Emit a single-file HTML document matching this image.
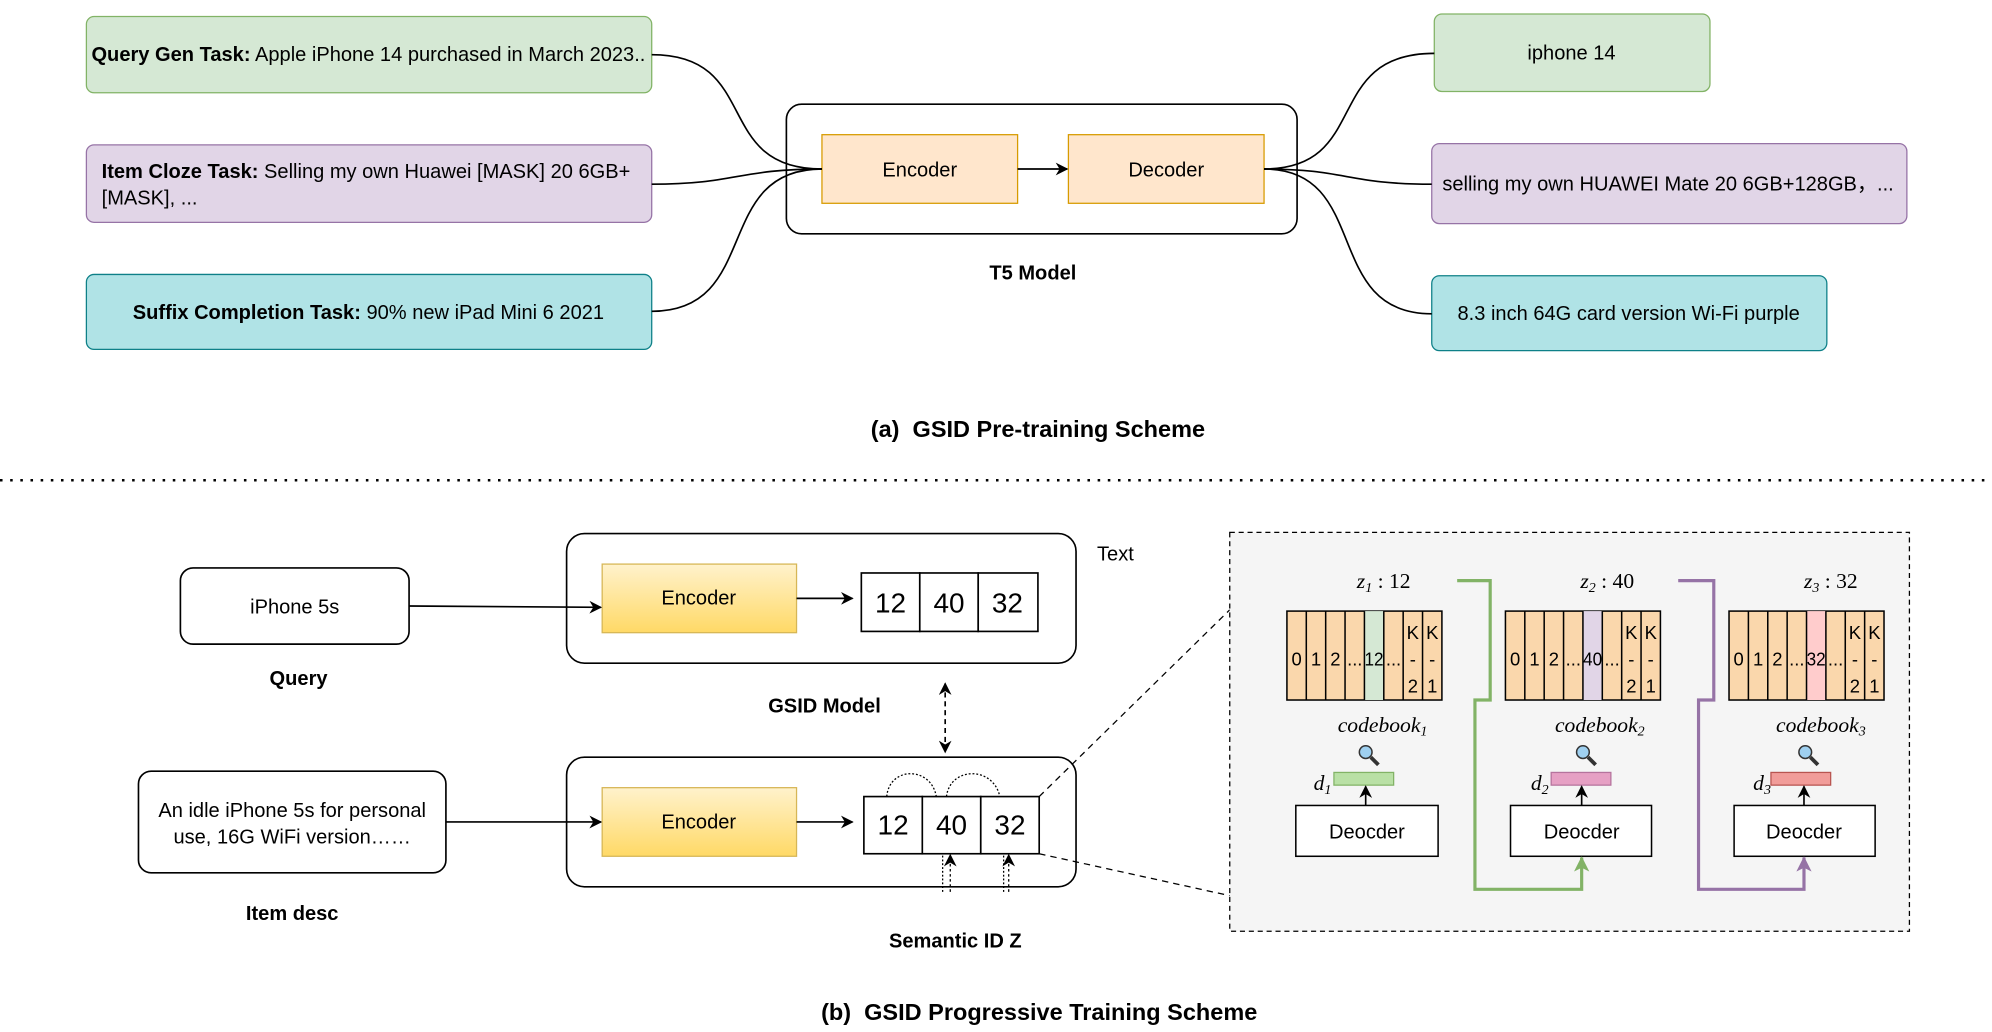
<!DOCTYPE html>
<html><head><meta charset="utf-8"><style>html,body{margin:0;padding:0;background:#fff}svg{display:block}</style></head><body>
<svg width="1992" height="1032" viewBox="0 0 1568 812.3" xmlns="http://www.w3.org/2000/svg" font-family="Liberation Sans, sans-serif">
<defs>
<marker id="a" markerWidth="10" markerHeight="10" refX="9" refY="5" orient="auto-start-reverse" markerUnits="userSpaceOnUse"><path d="M0,0 L10,5 L0,10 L3,5 z" fill="#000"/></marker>
<marker id="ag" markerWidth="12" markerHeight="12" refX="11" refY="6" orient="auto" markerUnits="userSpaceOnUse"><path d="M0,0 L12,6 L0,12 L3,6 z" fill="#82b366"/></marker>
<marker id="ap" markerWidth="12" markerHeight="12" refX="11" refY="6" orient="auto" markerUnits="userSpaceOnUse"><path d="M0,0 L12,6 L0,12 L3,6 z" fill="#9673a6"/></marker>
<linearGradient id="y" x1="0" y1="0" x2="0" y2="1"><stop offset="0" stop-color="#fff2cc"/><stop offset="1" stop-color="#ffd966"/></linearGradient>
</defs>
<g font-size="15.8">
<rect x="68" y="13" width="445" height="60" rx="6" fill="#d5e8d4" stroke="#82b366"/>
<text x="290" y="48" text-anchor="middle"><tspan font-weight="bold">Query Gen Task:</tspan> Apple iPhone 14 purchased in March 2023..</text>
<rect x="68" y="114" width="445" height="61" rx="6" fill="#e1d5e7" stroke="#9673a6"/>
<text x="80" y="140"><tspan font-weight="bold">Item Cloze Task:</tspan> Selling my own Huawei [MASK] 20 6GB+</text>
<text x="80" y="161">[MASK], ...</text>
<rect x="68" y="216" width="445" height="59" rx="6" fill="#b0e3e6" stroke="#0e8088"/>
<text x="290" y="251" text-anchor="middle"><tspan font-weight="bold">Suffix Completion Task:</tspan> 90% new iPad Mini 6 2021</text>
<rect x="619" y="82" width="402" height="102" rx="12" fill="#fff" stroke="#000" stroke-width="1.3"/>
<rect x="647" y="106" width="154" height="54" fill="#ffe6cc" stroke="#d79b00"/>
<text x="724" y="139" text-anchor="middle">Encoder</text>
<rect x="841" y="106" width="154" height="54" fill="#ffe6cc" stroke="#d79b00"/>
<text x="918" y="139" text-anchor="middle">Decoder</text>
<line x1="801" y1="133" x2="840" y2="133" stroke="#000" stroke-width="1.3" marker-end="url(#a)"/>
<text x="813" y="220" text-anchor="middle" font-weight="bold">T5 Model</text>
<rect x="1129" y="11" width="217" height="61" rx="6" fill="#d5e8d4" stroke="#82b366"/>
<text x="1237" y="47" text-anchor="middle">iphone 14</text>
<rect x="1127" y="113" width="374" height="63" rx="6" fill="#e1d5e7" stroke="#9673a6"/>
<text x="1313" y="150" text-anchor="middle">selling my own HUAWEI Mate 20 6GB+128GB，...</text>
<rect x="1127" y="217" width="311" height="59" rx="6" fill="#b0e3e6" stroke="#0e8088"/>
<text x="1282" y="252" text-anchor="middle">8.3 inch 64G card version Wi-Fi purple</text>
</g>
<g fill="none" stroke="#000" stroke-width="1.3">
<path d="M513,43 C600,43 560,133 647,133"/>
<path d="M513,145 C580,145 580,133 647,133"/>
<path d="M513,245 C600,245 560,133 647,133"/>
<path d="M995,133 C1080,133 1040,42 1129,42"/>
<path d="M995,133 C1060,133 1060,145 1127,145"/>
<path d="M995,133 C1080,133 1040,247 1127,247"/>
</g>
<text x="817" y="344" text-anchor="middle" font-size="18.5" font-weight="bold" xml:space="preserve">(a)  GSID Pre-training Scheme</text>
<line x1="0" y1="378" x2="1568" y2="378" stroke="#000" stroke-width="2" stroke-dasharray="2,6"/>
<g font-size="15.8">
<rect x="142" y="447" width="180" height="60" rx="10" fill="#fff" stroke="#000" stroke-width="1.3"/>
<text x="232" y="483" text-anchor="middle">iPhone 5s</text>
<text x="235" y="539" text-anchor="middle" font-weight="bold">Query</text>
<rect x="109" y="607" width="242" height="80" rx="10" fill="#fff" stroke="#000" stroke-width="1.3"/>
<text x="230" y="643" text-anchor="middle">An idle iPhone 5s for personal</text>
<text x="230" y="664" text-anchor="middle">use, 16G WiFi version……</text>
<text x="230" y="724" text-anchor="middle" font-weight="bold">Item desc</text>
<rect x="446" y="420" width="401" height="102" rx="14" fill="#fff" stroke="#000" stroke-width="1.3"/>
<rect x="474" y="444" width="153" height="54" fill="url(#y)" stroke="#d6b656"/>
<text x="550" y="476" text-anchor="middle">Encoder</text>
<line x1="627" y1="471" x2="671" y2="471" stroke="#000" stroke-width="1.3" marker-end="url(#a)"/>
<g fill="#fff" stroke="#000" stroke-width="1.3"><rect x="678" y="451" width="46" height="46"/><rect x="724" y="451" width="46" height="46"/><rect x="770" y="451" width="47" height="46"/></g>
<g font-size="22" text-anchor="middle"><text x="701" y="482">12</text><text x="747" y="482">40</text><text x="793" y="482">32</text></g>
<text x="878" y="441" text-anchor="middle">Text</text>
<text x="649" y="561" text-anchor="middle" font-weight="bold">GSID Model</text>
<line x1="322" y1="477" x2="473" y2="478" stroke="#000" stroke-width="1.3" marker-end="url(#a)"/>
<line x1="744" y1="538" x2="744" y2="592" stroke="#000" stroke-width="1.3" stroke-dasharray="4,3" marker-start="url(#a)" marker-end="url(#a)"/>
<rect x="446" y="596" width="401" height="102" rx="14" fill="#fff" stroke="#000" stroke-width="1.3"/>
<rect x="474" y="620" width="153" height="54" fill="url(#y)" stroke="#d6b656"/>
<text x="550" y="652" text-anchor="middle">Encoder</text>
<line x1="627" y1="647" x2="671" y2="647" stroke="#000" stroke-width="1.3" marker-end="url(#a)"/>
<line x1="351" y1="647" x2="473" y2="647" stroke="#000" stroke-width="1.3" marker-end="url(#a)"/>
<g fill="#fff" stroke="#000" stroke-width="1.3"><rect x="680" y="627" width="46" height="45"/><rect x="726" y="627" width="46" height="45"/><rect x="772" y="627" width="46" height="45"/></g>
<g font-size="22" text-anchor="middle"><text x="703" y="657">12</text><text x="749" y="657">40</text><text x="795" y="657">32</text></g>
<g fill="none" stroke="#000" stroke-dasharray="1.5,1.5"><path d="M698,627 C700,603 733,603 737,627"/><path d="M745,627 C748,603 782,603 787,627"/><path d="M742,702 L742,672"/><path d="M790,702 L790,672"/></g>
<line x1="748" y1="702" x2="748" y2="673" stroke="#000" stroke-dasharray="2,2" marker-end="url(#a)"/>
<line x1="794" y1="702" x2="794" y2="673" stroke="#000" stroke-dasharray="2,2" marker-end="url(#a)"/>
<text x="752" y="746" text-anchor="middle" font-weight="bold">Semantic ID Z</text>
</g>
<line x1="818" y1="627" x2="968" y2="480" stroke="#000" stroke-dasharray="5,4"/>
<line x1="818" y1="672" x2="968" y2="705" stroke="#000" stroke-dasharray="5,4"/>
<rect x="968" y="419" width="535" height="314" fill="#f5f5f5" stroke="#000" stroke-dasharray="4,3"/>
<g font-family="Liberation Serif, serif" font-style="italic" font-size="17">
<text x="1068" y="463">z<tspan font-size="11" dy="3">1</tspan><tspan dy="-3" font-style="normal"> : 12</tspan></text>
<text x="1244" y="463">z<tspan font-size="11" dy="3">2</tspan><tspan dy="-3" font-style="normal"> : 40</tspan></text>
<text x="1420" y="463">z<tspan font-size="11" dy="3">3</tspan><tspan dy="-3" font-style="normal"> : 32</tspan></text>
<text x="1053" y="576">codebook<tspan font-size="11" dy="3">1</tspan></text>
<text x="1224" y="576">codebook<tspan font-size="11" dy="3">2</tspan></text>
<text x="1398" y="576">codebook<tspan font-size="11" dy="3">3</tspan></text>
<text x="1034" y="622">d<tspan font-size="11" dy="3">1</tspan></text>
<text x="1205" y="622">d<tspan font-size="11" dy="3">2</tspan></text>
<text x="1380" y="622">d<tspan font-size="11" dy="3">3</tspan></text>
</g>
<g font-size="14.5" text-anchor="middle" stroke-width="1.2">
<g transform="translate(1013,481)">
<rect width="122" height="70" fill="#fad7ac" stroke="#000"/><rect x="61" width="15.25" height="70" fill="#d5e8d4"/>
<g stroke="#000"><line x1="15.25" y1="0" x2="15.25" y2="70"/><line x1="30.5" y1="0" x2="30.5" y2="70"/><line x1="45.75" y1="0" x2="45.75" y2="70"/><line x1="61" y1="0" x2="61" y2="70"/><line x1="76.25" y1="0" x2="76.25" y2="70"/><line x1="91.5" y1="0" x2="91.5" y2="70"/><line x1="106.75" y1="0" x2="106.75" y2="70"/></g>
<text x="7.6" y="43">0</text><text x="22.9" y="43">1</text><text x="38.1" y="43">2</text><text x="53.4" y="43">...</text><text x="68.6" y="43" textLength="15" lengthAdjust="spacingAndGlyphs">12</text><text x="83.9" y="43">...</text>
<text x="99.1" y="22">K</text><text x="99.1" y="43">-</text><text x="99.1" y="64">2</text><text x="114.4" y="22">K</text><text x="114.4" y="43">-</text><text x="114.4" y="64">1</text>
</g>
<g transform="translate(1185,481)">
<rect width="122" height="70" fill="#fad7ac" stroke="#000"/><rect x="61" width="15.25" height="70" fill="#e1d5e7"/>
<g stroke="#000"><line x1="15.25" y1="0" x2="15.25" y2="70"/><line x1="30.5" y1="0" x2="30.5" y2="70"/><line x1="45.75" y1="0" x2="45.75" y2="70"/><line x1="61" y1="0" x2="61" y2="70"/><line x1="76.25" y1="0" x2="76.25" y2="70"/><line x1="91.5" y1="0" x2="91.5" y2="70"/><line x1="106.75" y1="0" x2="106.75" y2="70"/></g>
<text x="7.6" y="43">0</text><text x="22.9" y="43">1</text><text x="38.1" y="43">2</text><text x="53.4" y="43">...</text><text x="68.6" y="43" textLength="15" lengthAdjust="spacingAndGlyphs">40</text><text x="83.9" y="43">...</text>
<text x="99.1" y="22">K</text><text x="99.1" y="43">-</text><text x="99.1" y="64">2</text><text x="114.4" y="22">K</text><text x="114.4" y="43">-</text><text x="114.4" y="64">1</text>
</g>
<g transform="translate(1361,481)">
<rect width="122" height="70" fill="#fad7ac" stroke="#000"/><rect x="61" width="15.25" height="70" fill="#ffcccc"/>
<g stroke="#000"><line x1="15.25" y1="0" x2="15.25" y2="70"/><line x1="30.5" y1="0" x2="30.5" y2="70"/><line x1="45.75" y1="0" x2="45.75" y2="70"/><line x1="61" y1="0" x2="61" y2="70"/><line x1="76.25" y1="0" x2="76.25" y2="70"/><line x1="91.5" y1="0" x2="91.5" y2="70"/><line x1="106.75" y1="0" x2="106.75" y2="70"/></g>
<text x="7.6" y="43">0</text><text x="22.9" y="43">1</text><text x="38.1" y="43">2</text><text x="53.4" y="43">...</text><text x="68.6" y="43" textLength="15" lengthAdjust="spacingAndGlyphs">32</text><text x="83.9" y="43">...</text>
<text x="99.1" y="22">K</text><text x="99.1" y="43">-</text><text x="99.1" y="64">2</text><text x="114.4" y="22">K</text><text x="114.4" y="43">-</text><text x="114.4" y="64">1</text>
</g>
</g>
<g stroke="#333" stroke-width="3" fill="#9fd0f0">
<line x1="1079" y1="596" x2="1085" y2="602"/><circle cx="1075" cy="592" r="5" stroke-width="1.2"/>
<line x1="1250" y1="596" x2="1256" y2="602"/><circle cx="1246" cy="592" r="5" stroke-width="1.2"/>
<line x1="1425" y1="596" x2="1431" y2="602"/><circle cx="1421" cy="592" r="5" stroke-width="1.2"/>
</g>
<rect x="1050" y="608" width="47" height="10" fill="#b9e0a5" stroke="#82b366"/>
<rect x="1221" y="608" width="47" height="10" fill="#e6a0c4" stroke="#b5739d"/>
<rect x="1394" y="608" width="47" height="10" fill="#f19c99" stroke="#b85450"/>
<g font-size="15.8" text-anchor="middle">
<rect x="1020" y="634" width="112" height="40" fill="#fff" stroke="#000" stroke-width="1.2"/><text x="1076" y="660">Deocder</text>
<rect x="1189" y="634" width="111" height="40" fill="#fff" stroke="#000" stroke-width="1.2"/><text x="1245" y="660">Deocder</text>
<rect x="1365" y="634" width="111" height="40" fill="#fff" stroke="#000" stroke-width="1.2"/><text x="1420" y="660">Deocder</text>
</g>
<g stroke="#000" stroke-width="1.3">
<line x1="1075" y1="634" x2="1075" y2="619" marker-end="url(#a)"/>
<line x1="1245" y1="634" x2="1245" y2="619" marker-end="url(#a)"/>
<line x1="1420" y1="634" x2="1420" y2="619" marker-end="url(#a)"/>
</g>
<path d="M1147,457 H1173 V551 H1161 V700 H1245 V675" fill="none" stroke="#82b366" stroke-width="2.5" marker-end="url(#ag)"/>
<path d="M1321,457 H1349 V551 H1337 V700 H1420 V675" fill="none" stroke="#9673a6" stroke-width="2.5" marker-end="url(#ap)"/>
<text x="818" y="803" text-anchor="middle" font-size="18.5" font-weight="bold" xml:space="preserve">(b)  GSID Progressive Training Scheme</text>
</svg>
</body></html>
